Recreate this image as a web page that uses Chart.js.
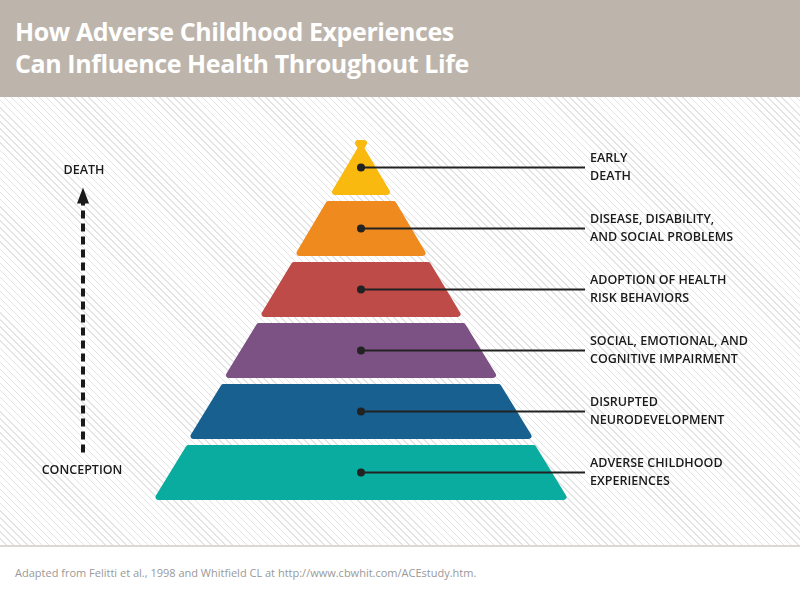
<!DOCTYPE html>
<html>
<head>
<meta charset="utf-8">
<script src="https://cdn.jsdelivr.net/npm/chart.js@4"></script>
<style>
  body { margin: 0; width: 800px; height: 600px; position: relative; overflow: hidden; background: #fff; font-family: "Open Sans", sans-serif; }
  #header { position: absolute; left: 0; top: 0; width: 800px; height: 97px; background: #bdb5ab; }
  #header h1 { margin: 0; position: absolute; left: 15px; top: 15px; color: #fff; font-size: 25px; line-height: 32px; font-weight: 700; letter-spacing: -0.4px; }
  #plot { position: absolute; left: 0; top: 97px; width: 800px; height: 448px;
    background: repeating-linear-gradient(45deg, #fff 0 4px, #e4e4e4 4px 5px); }
  #footer { position: absolute; left: 0; top: 545px; width: 800px; height: 55px; border-top: 2px solid #ddd8d2; background: #fff; }
  #footer p { margin: 0; position: absolute; left: 15px; top: 18px; font-size: 11px; color: #999; }
</style>
</head>
<body>
<div id="header"><h1>How Adverse Childhood Experiences<br>Can Influence Health Throughout Life</h1></div>
<div id="plot"><canvas id="pyramid" width="800" height="448"></canvas></div>
<div id="footer"><p>Adapted from Felitti et al., 1998 and Whitfield CL at http://www.cbwhit.com/ACEstudy.htm.</p></div>
<script>
// tiers, top to bottom
const tiers = [
  ['EARLY', 'DEATH'],
  ['DISEASE, DISABILITY,', 'AND SOCIAL PROBLEMS'],
  ['ADOPTION OF HEALTH', 'RISK BEHAVIORS'],
  ['SOCIAL, EMOTIONAL, AND', 'COGNITIVE IMPAIRMENT'],
  ['DISRUPTED', 'NEURODEVELOPMENT'],
  ['ADVERSE CHILDHOOD', 'EXPERIENCES']
];
const bottomWidths = [58, 129, 199, 270, 341, 411];
const topWidths = [0, 71, 140, 210, 281, 351];
const tierColors = ['#f9b90f', '#ef8a1e', '#bf4b48', '#7c5184', '#17608f', '#0aaca0'];
const axisTop = 'DEATH';
const axisBottom = 'CONCEPTION';

const canvas = document.getElementById('pyramid');

const pyramidPlugin = {
  id: 'pyramid',
  afterDatasetsDraw(chart) {
    const ctx = chart.ctx;
    const xs = chart.scales.x;
    const meta = chart.getDatasetMeta(0);
    const cx = xs.getPixelForValue(0);
    meta.data.forEach((bar, i) => {
      const h = bar.height;
      const top = bar.y - h / 2, bot = bar.y + h / 2;
      const bl = xs.getPixelForValue(-bottomWidths[i] / 2), br = xs.getPixelForValue(bottomWidths[i] / 2);
      const tl = xs.getPixelForValue(-topWidths[i] / 2), tr = xs.getPixelForValue(topWidths[i] / 2);
      ctx.save();
      ctx.fillStyle = tierColors[i];
      ctx.strokeStyle = tierColors[i];
      ctx.lineWidth = 6;
      ctx.lineJoin = 'round';
      ctx.beginPath();
      ctx.moveTo(bl + 3, bot - 3);
      ctx.lineTo(tl + 3, top + 3);
      ctx.lineTo(tr - 3, top + 3);
      ctx.lineTo(br - 3, bot - 3);
      ctx.closePath();
      ctx.fill();
      ctx.stroke();
      // pointer line and dot
      ctx.strokeStyle = '#222';
      ctx.lineWidth = 2;
      ctx.beginPath();
      ctx.moveTo(cx, bar.y);
      ctx.lineTo(585, bar.y);
      ctx.stroke();
      ctx.fillStyle = '#222';
      ctx.beginPath();
      ctx.arc(cx, bar.y, 4, 0, Math.PI * 2);
      ctx.fill();
      ctx.fillStyle = '#1a1a1a';
      ctx.font = '600 12.5px "Open Sans"';
      ctx.textBaseline = 'middle';
      ctx.fillText(tiers[i][0], 590, bar.y - 9);
      ctx.fillText(tiers[i][1], 590, bar.y + 9);
      ctx.restore();
    });
    // life-course arrow
    const first = meta.data[0], last = meta.data[meta.data.length - 1];
    ctx.save();
    ctx.fillStyle = '#1a1a1a';
    ctx.font = '600 12.5px "Open Sans"';
    ctx.textAlign = 'center';
    ctx.textBaseline = 'middle';
    ctx.fillText(axisTop, 84, first.y + 3);
    ctx.fillText(axisBottom, 82, last.y - 2);
    ctx.strokeStyle = '#1a1a1a';
    ctx.lineWidth = 4;
    ctx.setLineDash([8, 5]);
    ctx.beginPath();
    ctx.moveTo(83, last.y - 20);
    ctx.lineTo(83, first.y + 33);
    ctx.stroke();
    ctx.setLineDash([]);
    ctx.beginPath();
    ctx.moveTo(77, first.y + 36);
    ctx.lineTo(83, first.y + 20);
    ctx.lineTo(89, first.y + 36);
    ctx.closePath();
    ctx.fill();
    ctx.restore();
  }
};

new Chart(canvas, {
  type: 'bar',
  data: {
    labels: tiers.map(t => t.join(' ')),
    datasets: [{
      data: bottomWidths.map(w => [-w / 2, w / 2]),
      backgroundColor: 'rgba(0,0,0,0)',
      categoryPercentage: 1,
      barPercentage: 0.9
    }]
  },
  options: {
    indexAxis: 'y',
    responsive: false,
    animation: false,
    devicePixelRatio: 1,
    layout: { padding: { top: 40, bottom: 42, left: 0, right: 0 } },
    scales: {
      x: { type: 'linear', min: -361, max: 439, display: false },
      y: { display: false }
    },
    plugins: { legend: { display: false }, tooltip: { enabled: false } }
  },
  plugins: [pyramidPlugin]
});
</script>
</body>
</html>
